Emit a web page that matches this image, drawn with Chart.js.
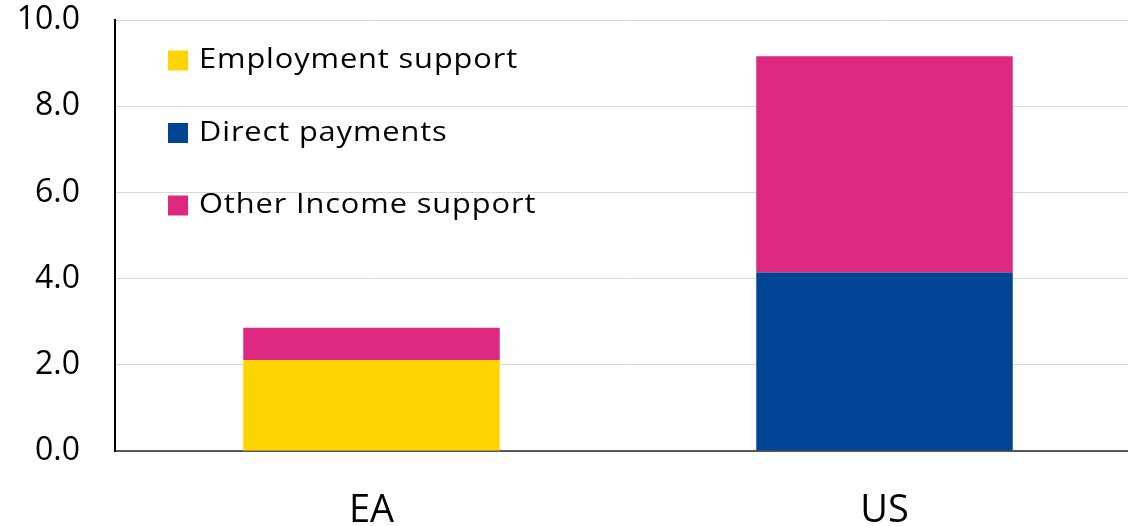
<!DOCTYPE html>
<html>
<head>
<meta charset="utf-8">
<script src="https://cdn.jsdelivr.net/npm/chart.js@4/dist/chart.umd.min.js"></script>
<style>
  html, body { margin: 0; padding: 0; background: #ffffff; overflow: hidden; }
  canvas { display: block; }
</style>
</head>
<body>
<canvas id="chart" width="1141" height="526" style="width:1141px;height:526px"></canvas>
<script>
// Income support measures, % of GDP
const categories = ['EA', 'US'];
const employmentSupport = [2.11, null];
const directPayments = [null, 4.14];
const otherIncomeSupport = [0.75, 5.02];
const yTicks = [0, 2, 4, 6, 8, 10];

const seriesNames = ['Employment support', 'Direct payments', 'Other Income support'];
const seriesColors = ['#FFD500', '#004494', '#DD2880'];

const FONT = '"Open Sans", "DejaVu Sans", sans-serif';

// Legend drawn inside the plot area, stacked vertically at the top left
const insideLegend = {
  id: 'insideLegend',
  afterDraw(chart) {
    const ctx = chart.ctx;
    const area = chart.chartArea;
    ctx.save();
    ctx.font = '28px ' + FONT;
    ctx.letterSpacing = '0.8px';
    ctx.textBaseline = 'middle';
    ctx.textAlign = 'left';
    chart.data.datasets.forEach((ds, i) => {
      const y = area.top + 40.5 + i * 72.5;
      const x = area.left + 53;
      ctx.fillStyle = ds.backgroundColor;
      ctx.fillRect(x, y - 10, 20, 20);
      ctx.fillStyle = '#000000';
      ctx.save();
      ctx.translate(x + 31, y);
      ctx.scale(1.1, 1);
      ctx.fillText(ds.label, 0, 0);
      ctx.restore();
    });
    ctx.restore();
  }
};

new Chart(document.getElementById('chart'), {
  type: 'bar',
  data: {
    labels: categories,
    datasets: [
      { label: seriesNames[0], data: employmentSupport, backgroundColor: seriesColors[0] },
      { label: seriesNames[1], data: directPayments, backgroundColor: seriesColors[1] },
      { label: seriesNames[2], data: otherIncomeSupport, backgroundColor: seriesColors[2] }
    ]
  },
  options: {
    responsive: false,
    animation: false,
    layout: { padding: { top: 20, left: 0, right: 0, bottom: 0 } },
    datasets: { bar: { barPercentage: 0.5, categoryPercentage: 1.0, borderWidth: 0 } },
    plugins: { legend: { display: false }, tooltip: { enabled: false } },
    scales: {
      x: {
        stacked: true,
        afterFit(axis) { axis.height = 75; axis.paddingLeft = 0; axis.paddingRight = 0; },
        grid: { display: false, drawTicks: false },
        border: { display: true, color: '#595959', width: 2 },
        ticks: { color: '#000000', font: { family: FONT, size: 38 }, padding: 37 }
      },
      y: {
        stacked: true,
        min: 0,
        max: 10,
        afterFit(axis) { axis.width = 115; axis.paddingTop = 0; axis.paddingBottom = 0; },
        afterBuildTicks(axis) { axis.ticks = yTicks.map(v => ({ value: v })); },
        grid: { color: '#d9d9d9', lineWidth: 1, drawTicks: false },
        border: { display: true, color: '#000000', width: 2 },
        ticks: {
          color: '#000000',
          font: { family: FONT, size: 32 },
          padding: 35,
          callback: v => Number(v).toFixed(1)
        }
      }
    }
  },
  plugins: [insideLegend]
});
</script>
</body>
</html>
